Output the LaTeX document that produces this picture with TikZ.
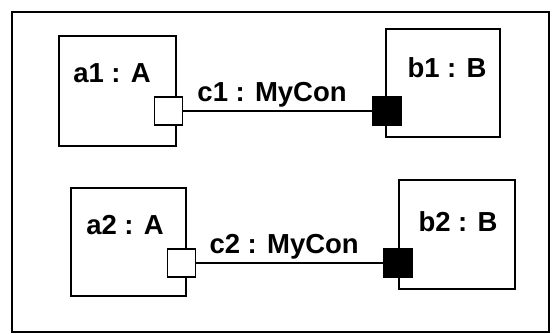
\documentclass[tikz,border=0pt]{standalone}
\usepackage{fontspec}
\setmainfont{Liberation Sans}
\usepackage{tikz}

\begin{document}
\begin{tikzpicture}[x=1pt,y=-1pt]
    \tikzset{
        part/.style={draw,line width=1.8pt,anchor=north west,inner sep=0pt},
        partname/.style={font=\fontsize{27.5}{30}\selectfont\bfseries,inner sep=0pt},
        portin/.style={draw,fill=white,line width=1.8pt,minimum size=28pt,inner sep=0pt},
        portout/.style={draw,fill=black,line width=1.8pt,minimum size=28pt,inner sep=0pt},
        conn/.style={line width=1.5pt}
    }
    \useasboundingbox (0,0) rectangle (554,334);

    % frame
    \draw[line width=2.2pt] (12,12) rectangle (549,332);

    % parts
    \node[part,minimum width=117pt,minimum height=110pt] (a1) at (58,35) {};
    \node[part,minimum width=114pt,minimum height=108pt] (b1) at (385,28) {};
    \node[part,minimum width=115pt,minimum height=108pt] (a2) at (70,187) {};
    \node[part,minimum width=116pt,minimum height=109pt] (b2) at (398,179) {};

    \node[partname] (a1name) at (112,73) {a1 : A};
    \node[partname] (b1name) at (447,68) {b1 : B};
    \node[partname] (a2name) at (125,225) {a2 : A};
    \node[partname] (b2name) at (458,222) {b2 : B};

    % ports
    \node[portin] (pa1) at (168.5,111) {};
    \node[portout] (pb1) at (387,111) {};
    \node[portin] (pa2) at (181.5,263) {};
    \node[portout] (pb2) at (398,263) {};

    % connectors
    \draw[conn] (pa1) -- (pb1)
        node[pos=0.47,above=3pt,partname] (c1) {c1 : MyCon};
    \draw[conn] (pa2) -- (pb2)
        node[pos=0.47,above=3pt,partname] (c2) {c2 : MyCon};
\end{tikzpicture}
\end{document}
